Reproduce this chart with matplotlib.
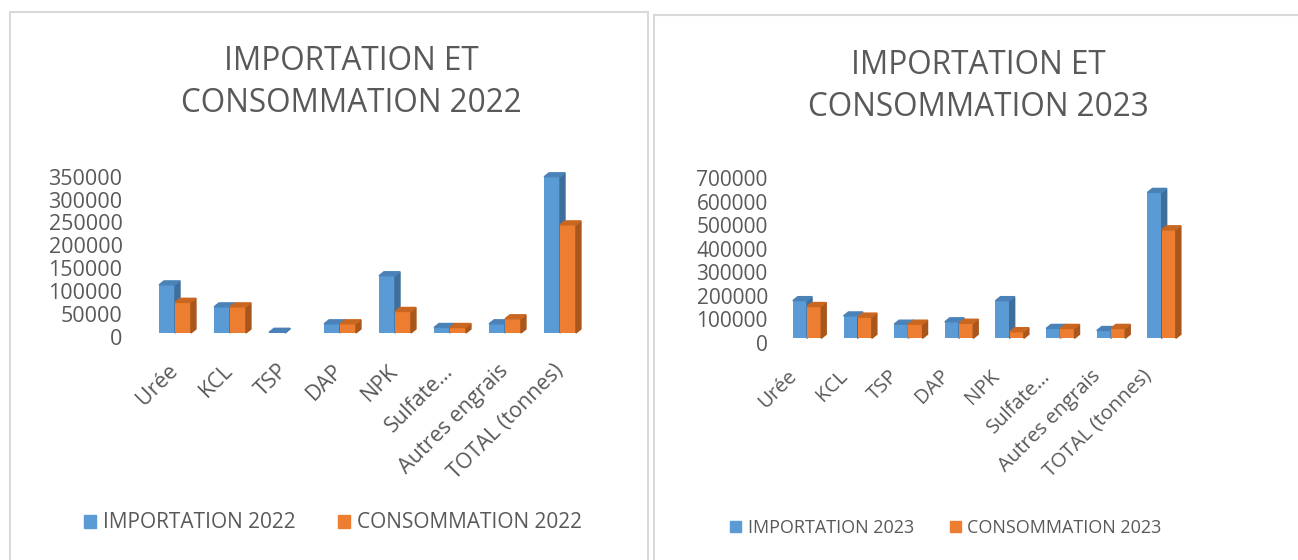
import matplotlib
matplotlib.use("Agg")
import matplotlib.pyplot as plt
from matplotlib.patches import Polygon, Rectangle, Patch
from matplotlib.transforms import ScaledTranslation

plt.rcParams['font.family'] = ['Open Sans', 'DejaVu Sans']

# Données
categories = ["Urée", "KCL", "TSP", "DAP", "NPK", "Sulfate…", "Autres engrais", "TOTAL (tonnes)"]
imp_2022 = [105000, 57000, 1500, 20000, 125000, 12000, 20000, 341000]
cons_2022 = [67000, 57000, 0, 20000, 47000, 12000, 31000, 236000]
imp_2023 = [160000, 95000, 60000, 70000, 160000, 42000, 33000, 620000]
cons_2023 = [135000, 90000, 60000, 64000, 28000, 42000, 42000, 461000]
yticks_2022 = list(range(0, 350001, 50000))
yticks_2023 = list(range(0, 700001, 100000))

W, H = 1298, 560
GRIS = '#595959'
BLEU, BLEU_COTE, BLEU_HAUT = '#5B9BD5', '#3E6E9C', '#4A82B8'
ORANGE, ORANGE_COTE, ORANGE_HAUT = '#ED7D31', '#A9561C', '#C9661F'

fig = plt.figure(figsize=(W / 100, H / 100), dpi=100)


def px_axes(x0, x1, ybot, ytop):
    # positions en pixels (origine en haut à gauche) -> fraction de figure
    return fig.add_axes([x0 / W, 1 - ybot / H, (x1 - x0) / W, (ybot - ytop) / H])


def barre3d(ax, x, w, h, c_face, c_cote, c_haut, dx, dy):
    if h <= 0:
        return
    ax.bar(x, h, w, color=c_face, align='center', zorder=2)
    g, d = x - w / 2, x + w / 2
    ax.add_patch(Polygon([[d, 0], [d + dx, dy], [d + dx, h + dy], [d, h]],
                         closed=True, color=c_cote, zorder=2, clip_on=False))
    ax.add_patch(Polygon([[g, h], [d, h], [d + dx, h + dy], [g + dx, h + dy]],
                         closed=True, color=c_haut, zorder=2, clip_on=False))


def panneau(ax, imp, cons, yticks, ymax, largeur, ytick_fs, xtick_fs, ypad, ypix, xdec):
    ax.set_xlim(-0.5, len(categories) - 0.5)
    ax.set_ylim(0, ymax)
    bb = ax.get_position()
    ax_w = bb.width * W
    ax_h = bb.height * H
    dx = 5 * len(categories) / ax_w
    dy = 4 * ymax / ax_h
    w = largeur
    for i in range(len(categories)):
        barre3d(ax, i - w / 2, w, imp[i], BLEU, BLEU_COTE, BLEU_HAUT, dx, dy)
        barre3d(ax, i + w / 2, w, cons[i], ORANGE, ORANGE_COTE, ORANGE_HAUT, dx, dy)
    for s in ax.spines.values():
        s.set_visible(False)
    ax.set_yticks(yticks)
    ax.set_yticklabels([str(v) for v in yticks], fontsize=ytick_fs, color=GRIS)
    ax.tick_params(axis='y', length=0, pad=ypad)
    for lab in ax.get_yticklabels():
        lab.set_transform(lab.get_transform() + ScaledTranslation(0, -ypix / 100, fig.dpi_scale_trans))
    ax.set_xticks(range(len(categories)))
    ax.set_xticklabels(categories, rotation=45, ha='right', va='center',
                       rotation_mode='anchor', fontsize=xtick_fs, color=GRIS)
    ax.tick_params(axis='x', length=0, pad=25)
    for lab in ax.get_xticklabels():
        lab.set_transform(lab.get_transform() + ScaledTranslation(xdec / 100, 0, fig.dpi_scale_trans))


# Cadres des deux graphiques
fig.patches.append(Rectangle((10 / W, -0.1), 638 / W, 1.1 - 12 / H, transform=fig.transFigure,
                             fill=False, edgecolor='#D9D9D9', lw=1.5))
fig.patches.append(Rectangle((654 / W, -0.1), 700 / W, 1.1 - 15 / H, transform=fig.transFigure,
                             fill=False, edgecolor='#D9D9D9', lw=1.5))

# Graphique 2022
ax1 = px_axes(147.5, 587.5, 333, 172.7)
panneau(ax1, imp_2022, cons_2022, yticks_2022, 350000, 0.29, 15.5, 15.5, 18, 4, 0)
fig.text(351 / W, 1 - 61 / H, "IMPORTATION ET", ha='center', va='center', fontsize=22.7, color=GRIS)
fig.text(351 / W, 1 - 103 / H, "CONSOMMATION 2022", ha='center', va='center', fontsize=22.7, color=GRIS)
fig.legend(handles=[Patch(color=BLEU, label="IMPORTATION 2022"),
                    Patch(color=ORANGE, label="CONSOMMATION 2022")],
           loc='center', bbox_to_anchor=(333 / W, 1 - 523 / H), ncol=2, frameon=False,
           fontsize=15, labelcolor=GRIS, handlelength=0.6, handleheight=0.6,
           handletextpad=0.35, columnspacing=2.0)

# Graphique 2023
ax2 = px_axes(781.7, 1187, 338.3, 173.6)
panneau(ax2, imp_2023, cons_2023, yticks_2023, 700000, 0.28, 15, 14.5, 10, 4.5, -13)
fig.text(978 / W, 1 - 66 / H, "IMPORTATION ET", ha='center', va='center', fontsize=22.7, color=GRIS)
fig.text(978 / W, 1 - 108 / H, "CONSOMMATION 2023", ha='center', va='center', fontsize=22.7, color=GRIS)
fig.legend(handles=[Patch(color=BLEU, label="IMPORTATION 2023"),
                    Patch(color=ORANGE, label="CONSOMMATION 2023")],
           loc='center', bbox_to_anchor=(946 / W, 1 - 528 / H), ncol=2, frameon=False,
           fontsize=13, labelcolor=GRIS, handlelength=0.6, handleheight=0.6,
           handletextpad=0.35, columnspacing=2.0)

fig.savefig("out.png", dpi=100)
